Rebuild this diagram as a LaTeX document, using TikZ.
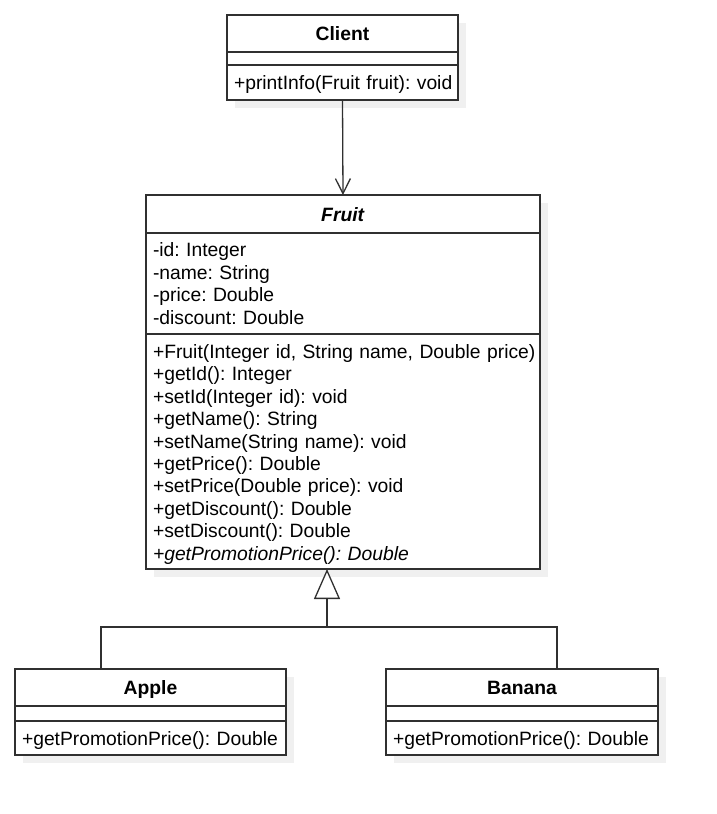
\documentclass[tikz,border=0pt]{standalone}
\usepackage{fontspec}
\setmainfont{Liberation Sans}
\usepackage{xcolor}
\usepackage{tikz}
\usetikzlibrary{positioning,arrows.meta,backgrounds}
\definecolor{umlline}{HTML}{303030}
\definecolor{umlshade}{HTML}{F0F0F0}
\frenchspacing

\begin{document}
\begin{tikzpicture}[x=1pt,y=-1pt,
  every node/.style={font=\fontsize{19.3}{22.4}\selectfont},
  cls/.style={draw=umlline,fill=white,line width=1.3pt,inner xsep=7pt,inner ysep=0pt,outer sep=0pt},
  title/.style={cls,text height=16pt,text depth=2pt},
  list/.style={cls,align=left},
  link/.style={draw=umlline,line width=1.3pt},
  assoc/.style={link,-{Straight Barb[length=15pt,width=15pt]}},
  gen/.style={link,-{Triangle[open,length=30pt,width=26pt,fill=white]}}]
\useasboundingbox (0,0) rectangle (717,814);
\node [title,minimum width=231,minimum height=37,anchor=north west] (clienthead) at (227,15) {\textbf{Client}};
\node [cls,minimum width=231,minimum height=13,below=0pt of clienthead] (clientattr) {};
\node [list,text width=217,minimum height=35,text height=16pt,text depth=2pt,below=0pt of clientattr] (clientops) {\mbox{+printInfo(Fruit fruit): void}};
\node [title,minimum width=394,minimum height=38,anchor=north west] (fruithead) at (146,195) {\textbf{\textit{Fruit}}};
\node [list,text width=380,minimum height=101,below=0pt of fruithead] (fruitattr) {-id: Integer\\-name: String\\-price: Double\\-discount: Double};
\node [list,text width=380,minimum height=235,text height=20pt,text depth=206pt,below=0pt of fruitattr] (fruitops) {\mbox{+Fruit(Integer id, String name, Double price)}\\+getId(): Integer\\+setId(Integer id): void\\+getName(): String\\+setName(String name): void\\+getPrice(): Double\\+setPrice(Double price): void\\+getDiscount(): Double\\+setDiscount(): Double\\\textit{+getPromotionPrice(): Double}};
\node [title,minimum width=271,minimum height=37,anchor=north west] (applehead) at (15,669) {\textbf{Apple}};
\node [cls,minimum width=271,minimum height=15,below=0pt of applehead] (appleattr) {};
\node [list,text width=257,minimum height=34,text height=16pt,text depth=2pt,below=0pt of appleattr] (appleops) {\mbox{+getPromotionPrice(): Double}};
\node [title,minimum width=272,minimum height=37,anchor=north west] (bananahead) at (386,669) {\textbf{Banana}};
\node [cls,minimum width=272,minimum height=15,below=0pt of bananahead] (bananaattr) {};
\node [list,text width=258,minimum height=34,text height=16pt,text depth=2pt,below=0pt of bananaattr] (bananaops) {\mbox{+getPromotionPrice(): Double}};
\begin{scope}[on background layer]
\fill [umlshade] ([shift={(8,8)}]clienthead.north west) rectangle ([shift={(8,8)}]clientops.south east);
\fill [umlshade] ([shift={(8,8)}]fruithead.north west) rectangle ([shift={(8,8)}]fruitops.south east);
\fill [umlshade] ([shift={(8,8)}]applehead.north west) rectangle ([shift={(8,8)}]appleops.south east);
\fill [umlshade] ([shift={(8,8)}]bananahead.north west) rectangle ([shift={(8,8)}]bananaops.south east);
\end{scope}
\draw [assoc] (clientops.south) -- (fruithead.north);
\coordinate (join) at (327,627);
\draw [gen] (join) -- (join |- fruitops.south);
\draw [link] ([xshift=-49.5]applehead.north) |- (join) -| ([xshift=35]bananahead.north);
\end{tikzpicture}
\end{document}
